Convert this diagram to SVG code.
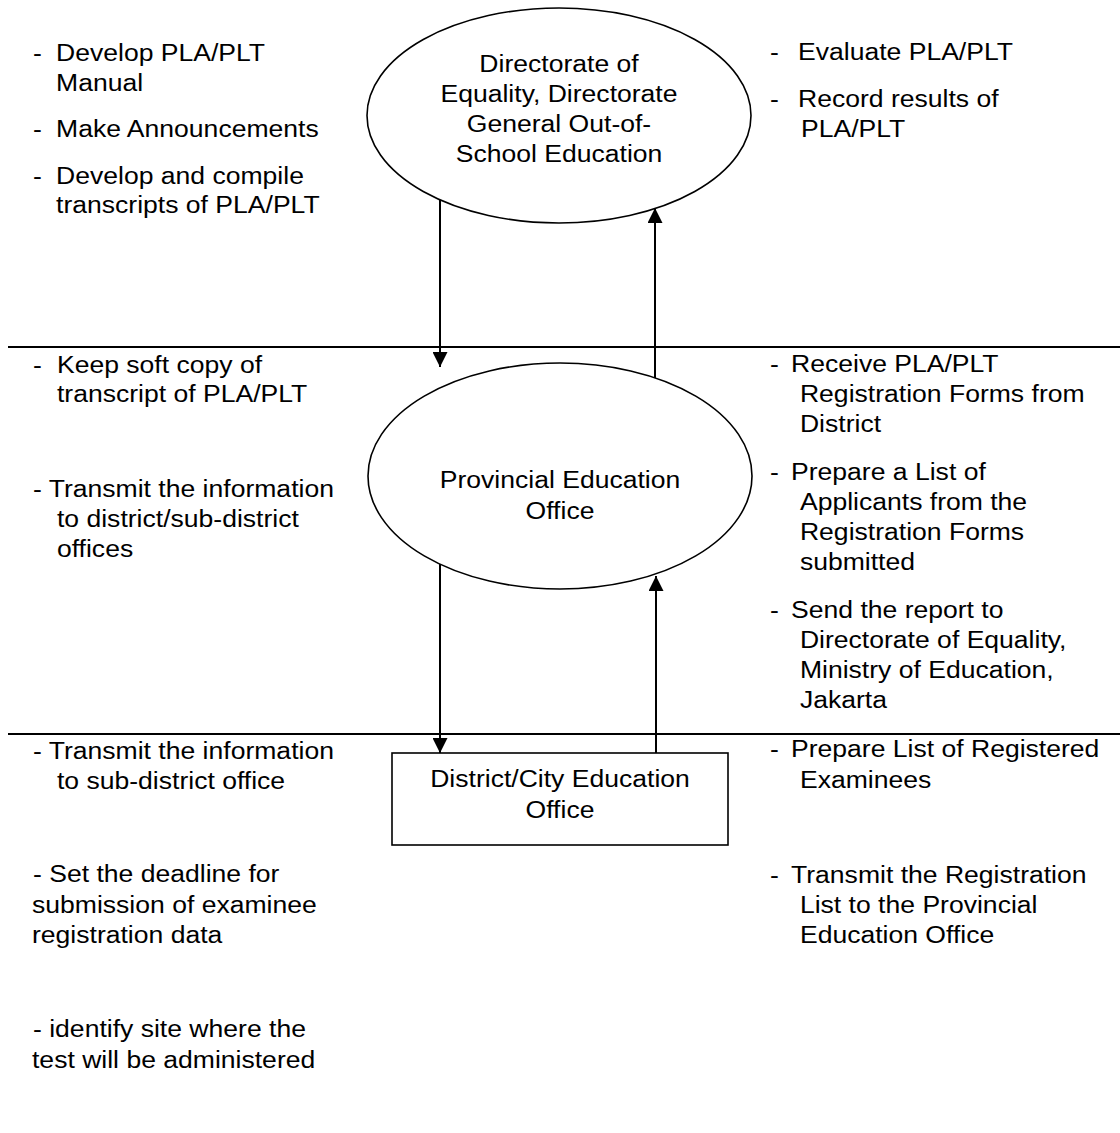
<svg xmlns="http://www.w3.org/2000/svg" width="1120" height="1133" viewBox="0 0 1120 1133">
<style>
.t{font-family:"Liberation Sans",Arial,sans-serif;font-size:23.5px;fill:#000}
.c{text-anchor:middle}
.shape{fill:#fff;stroke:#000;stroke-width:1.6}
.sep{stroke:#000;stroke-width:2}
.conn{stroke:#000;stroke-width:2;fill:none;marker-end:url(#arrow)}
</style>
<defs>
<marker id="arrow" viewBox="0 0 15 15" refX="15" refY="7.5" markerWidth="15" markerHeight="15" markerUnits="userSpaceOnUse" orient="auto">
<path d="M0,0 L15,7.5 L0,15 z" fill="#000"/>
</marker>
</defs>
<rect width="1120" height="1133" fill="#fff"/>
<g id="separators">
<line class="sep" x1="8" y1="347" x2="1120" y2="347"/>
<line class="sep" x1="8" y1="734" x2="1120" y2="734"/>
</g>
<g id="node-directorate">
<ellipse class="shape" cx="559" cy="115.5" rx="192" ry="107.5"/>
<g class="t c" transform="translate(559,0) scale(1.13,1)">
<text x="0" y="72">Directorate of</text>
<text x="0" y="102">Equality, Directorate</text>
<text x="0" y="132">General Out-of-</text>
<text x="0" y="162">School Education</text>
</g>
</g>
<g id="node-provincial">
<ellipse class="shape" cx="560" cy="476" rx="192" ry="113"/>
<g class="t c" transform="translate(560,0) scale(1.13,1)">
<text x="0" y="488">Provincial Education</text>
<text x="0" y="519">Office</text>
</g>
</g>
<g id="node-district">
<rect class="shape" x="392" y="753" width="336" height="92"/>
<g class="t c" transform="translate(560,0) scale(1.13,1)">
<text x="0" y="787">District/City Education</text>
<text x="0" y="818">Office</text>
</g>
</g>
<g id="connectors">
<line class="conn" x1="440" y1="200" x2="440" y2="367"/>
<line class="conn" x1="655" y1="378" x2="655" y2="208"/>
<line class="conn" x1="440" y1="564" x2="440" y2="753"/>
<line class="conn" x1="656" y1="753" x2="656" y2="576"/>
</g>
<g id="notes-left" class="t">
<g transform="translate(33,0) scale(1.13,1)">
<text x="0" y="61">-</text><text x="20.4" y="61">Develop PLA/PLT</text>
<text x="20.4" y="91">Manual</text>
<text x="0" y="137">-</text><text x="20.4" y="137">Make Announcements</text>
<text x="0" y="184">-</text><text x="20.4" y="184">Develop and compile</text>
<text x="20.4" y="213">transcripts of PLA/PLT</text>
<text x="0" y="373">-</text><text x="21.2" y="373">Keep soft copy of</text>
<text x="21.2" y="402">transcript of PLA/PLT</text>
<text x="0" y="497">- Transmit the information</text>
<text x="21.2" y="527">to district/sub-district</text>
<text x="21.2" y="557">offices</text>
<text x="0" y="759">- Transmit the information</text>
<text x="21.2" y="789">to sub-district office</text>
<text x="0" y="882">- Set the deadline for</text>
<text x="-0.9" y="913">submission of examinee</text>
<text x="-0.9" y="943">registration data</text>
<text x="0" y="1037">- identify site where the</text>
<text x="-0.9" y="1068">test will be administered</text>
</g>
</g>
<g id="notes-right" class="t">
<g transform="translate(770,0) scale(1.13,1)">
<text x="0" y="60">-</text><text x="24.8" y="60">Evaluate PLA/PLT</text>
<text x="0" y="107">-</text><text x="24.8" y="107">Record results of</text>
<text x="27.4" y="137">PLA/PLT</text>
<text x="0" y="372">-</text><text x="18.6" y="372">Receive PLA/PLT</text>
<text x="26.5" y="402">Registration Forms from</text>
<text x="26.5" y="432">District</text>
<text x="0" y="480">-</text><text x="18.6" y="480">Prepare a List of</text>
<text x="26.5" y="510">Applicants from the</text>
<text x="26.5" y="540">Registration Forms</text>
<text x="26.5" y="570">submitted</text>
<text x="0" y="618">-</text><text x="18.6" y="618">Send the report to</text>
<text x="26.5" y="648">Directorate of Equality,</text>
<text x="26.5" y="678">Ministry of Education,</text>
<text x="26.5" y="708">Jakarta</text>
<text x="0" y="757">-</text><text x="18.6" y="757">Prepare List of Registered</text>
<text x="26.5" y="788">Examinees</text>
<text x="0" y="883">-</text><text x="18.6" y="883">Transmit the Registration</text>
<text x="26.5" y="913">List to the Provincial</text>
<text x="26.5" y="943">Education Office</text>
</g>
</g>
</svg>
